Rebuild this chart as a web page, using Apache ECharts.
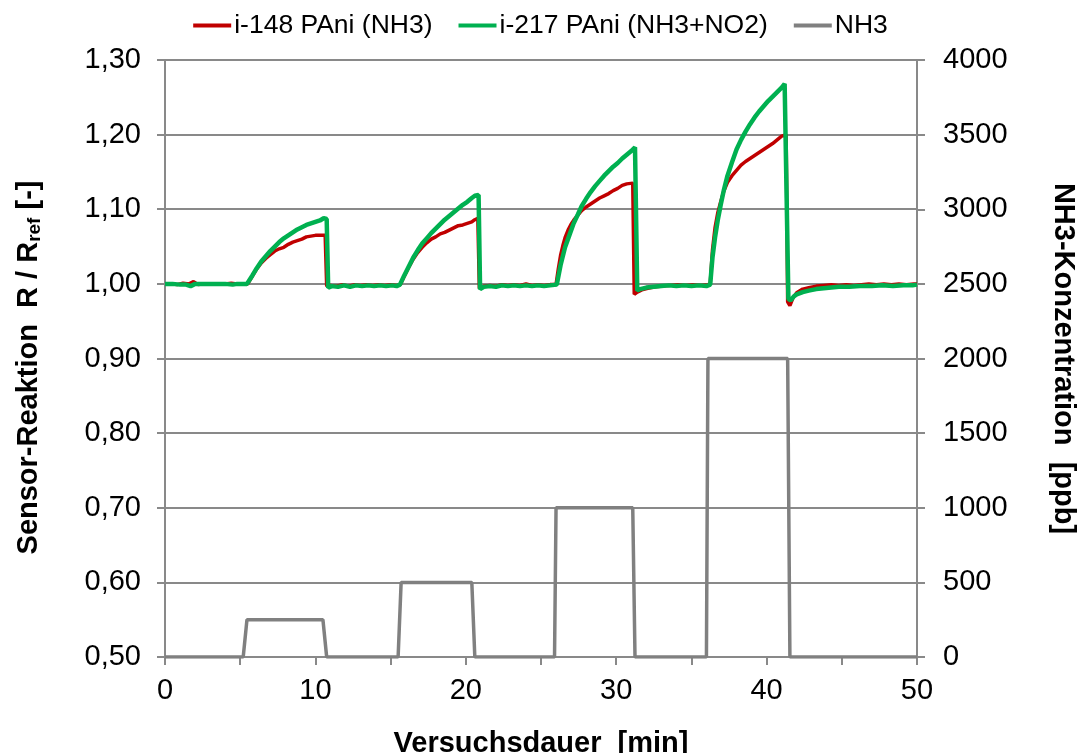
<!DOCTYPE html>
<html>
<head>
<meta charset="utf-8">
<script src="https://cdn.jsdelivr.net/npm/echarts@6/dist/echarts.min.js"></script>
<style>
  html, body { margin: 0; padding: 0; background: #ffffff; }
  #chart { width: 1081px; height: 753px; }
</style>
</head>
<body>
<div id="chart"></div>
<script>
// Sensor i-148 PAni (NH3): time [min] and relative resistance R/Rref
const timeI148 = [
  0, 0.4, 0.8, 1.2, 1.6, 1.9, 2.2, 2.6, 3.0, 3.5, 4.0, 4.4, 4.8, 5.2, 5.5,
  5.8, 6.1, 6.4, 6.7, 7.0, 7.3, 7.6, 7.9, 8.2, 8.5, 8.8, 9.1, 9.4, 9.7, 10.0, 10.3, 10.65,
  10.75, 11.0, 11.4, 11.8, 12.2, 12.6, 13.0, 13.4, 13.8, 14.2, 14.6, 15.0, 15.4, 15.65,
  15.9, 16.2, 16.5, 16.8, 17.1, 17.4, 17.7, 18.0, 18.3, 18.6, 18.9, 19.2, 19.5, 19.8, 20.1, 20.4, 20.6, 20.8,
  20.9, 21.2, 21.6, 22.0, 22.4, 22.8, 23.2, 23.6, 24.0, 24.4, 24.8, 25.2, 25.6, 26.0,
  26.15, 26.3, 26.45, 26.6, 26.8, 27.0, 27.2, 27.45, 27.7, 28.0, 28.3, 28.6, 28.9, 29.2, 29.5, 29.8, 30.1, 30.4, 30.7, 31.1,
  31.2, 31.4, 31.7, 32.1, 32.6, 33.1, 33.6, 34.1, 34.6, 35.1, 35.6, 36.1, 36.25,
  36.4, 36.57, 36.75, 36.95, 37.15, 37.4, 37.7, 38.0, 38.3, 38.6, 38.9, 39.2, 39.5, 39.8, 40.1, 40.4, 40.7, 41.0, 41.3,
  41.4, 41.55, 41.75, 42.0, 42.4, 42.8, 43.3, 43.8, 44.3, 44.8, 45.3, 45.8, 46.3, 46.8, 47.3, 47.8, 48.3, 48.8, 49.3, 49.8, 50.0
];
const respI148 = [
  1.000, 1.000, 0.999, 1.001, 1.000, 1.003, 0.999, 1.000, 1.000, 1.000, 1.000, 1.001, 1.000, 1.000, 1.000,
  1.010, 1.020, 1.028, 1.034, 1.039, 1.044, 1.047, 1.049, 1.053, 1.056, 1.058, 1.060, 1.063, 1.064, 1.065, 1.065, 1.065,
  0.997, 0.998, 0.997, 0.999, 0.997, 0.999, 0.998, 0.999, 0.998, 0.999, 0.998, 0.999, 0.998, 0.999,
  1.010, 1.022, 1.033, 1.042, 1.049, 1.055, 1.060, 1.063, 1.067, 1.069, 1.072, 1.075, 1.078, 1.079, 1.081, 1.083, 1.086, 1.088,
  0.994, 0.997, 0.998, 0.997, 0.999, 0.998, 0.999, 0.998, 1.000, 0.998, 0.999, 0.998, 0.999, 0.999,
  1.020, 1.038, 1.051, 1.062, 1.072, 1.080, 1.086, 1.092, 1.098, 1.103, 1.107, 1.111, 1.115, 1.118, 1.121, 1.125, 1.128, 1.132, 1.134, 1.135,
  0.986, 0.989, 0.992, 0.994, 0.996, 0.997, 0.998, 0.999, 0.998, 0.999, 0.998, 0.999, 1.000,
  1.045, 1.075, 1.095, 1.110, 1.124, 1.136, 1.145, 1.152, 1.159, 1.164, 1.168, 1.172, 1.176, 1.180, 1.184, 1.188, 1.193, 1.198, 1.200,
  0.976, 0.971, 0.981, 0.988, 0.993, 0.995, 0.997, 0.998, 0.999, 0.998, 0.999, 0.998, 0.999, 1.000, 0.999, 1.000, 0.999, 1.000, 0.999, 1.000, 1.000
];

// Sensor i-217 PAni (NH3+NO2)
const timeI217 = [
  0, 0.5, 1.0, 1.4, 1.7, 2.0, 2.5, 3.0, 3.5, 4.0, 4.5, 4.8, 5.2, 5.45,
  5.8, 6.1, 6.4, 6.7, 7.0, 7.3, 7.6, 7.9, 8.2, 8.5, 8.8, 9.1, 9.4, 9.7, 10.0, 10.3, 10.55, 10.75,
  10.85, 11.1, 11.5, 11.9, 12.3, 12.7, 13.1, 13.5, 13.9, 14.3, 14.7, 15.1, 15.4, 15.62,
  15.9, 16.2, 16.5, 16.8, 17.1, 17.4, 17.7, 18.0, 18.3, 18.6, 18.9, 19.2, 19.5, 19.8, 20.1, 20.4, 20.6, 20.85,
  20.95, 21.2, 21.6, 22.0, 22.4, 22.8, 23.2, 23.6, 24.0, 24.4, 24.8, 25.2, 25.6, 26.05,
  26.3, 26.6, 26.9, 27.15, 27.45, 27.7, 28.0, 28.3, 28.6, 28.9, 29.2, 29.5, 29.8, 30.1, 30.4, 30.7, 31.0, 31.25, 31.35,
  31.4, 31.6, 32.0, 32.5, 33.0, 33.5, 34.0, 34.5, 35.0, 35.5, 36.0, 36.25,
  36.4, 36.57, 36.75, 36.95, 37.15, 37.4, 37.7, 38.0, 38.3, 38.6, 38.9, 39.2, 39.5, 39.8, 40.1, 40.4, 40.7, 41.0, 41.2, 41.3,
  41.45, 41.6, 41.8, 42.0, 42.4, 42.8, 43.3, 43.8, 44.3, 44.8, 45.5, 46.2, 47.0, 47.7, 48.4, 49.1, 49.7, 50.0
];
const respI217 = [
  1.000, 1.000, 0.999, 0.999, 0.997, 1.000, 1.000, 1.000, 1.000, 1.000, 0.999, 1.000, 1.000, 1.000,
  1.011, 1.021, 1.030, 1.037, 1.044, 1.050, 1.056, 1.061, 1.065, 1.069, 1.073, 1.076, 1.079, 1.081, 1.083, 1.085, 1.088, 1.087,
  0.995, 0.997, 0.996, 0.998, 0.996, 0.998, 0.997, 0.998, 0.997, 0.998, 0.997, 0.998, 0.997, 0.999,
  1.011, 1.023, 1.035, 1.045, 1.054, 1.061, 1.068, 1.074, 1.080, 1.086, 1.091, 1.096, 1.101, 1.106, 1.110, 1.115, 1.118, 1.119,
  0.993, 0.996, 0.997, 0.996, 0.998, 0.997, 0.998, 0.997, 0.998, 0.997, 0.998, 0.997, 0.998, 0.999,
  1.025, 1.049, 1.066, 1.080, 1.093, 1.104, 1.114, 1.123, 1.131, 1.138, 1.145, 1.151, 1.157, 1.162, 1.168, 1.173, 1.178, 1.183, 1.181,
  0.991, 0.993, 0.995, 0.996, 0.997, 0.998, 0.997, 0.998, 0.997, 0.998, 0.997, 0.999,
  1.035, 1.062, 1.085, 1.106, 1.125, 1.145, 1.163, 1.180, 1.193, 1.204, 1.214, 1.223, 1.231, 1.238, 1.245, 1.251, 1.257, 1.263, 1.268, 1.269,
  0.980, 0.978, 0.983, 0.986, 0.989, 0.991, 0.993, 0.994, 0.995, 0.996, 0.996, 0.997, 0.997, 0.998, 0.997, 0.998, 0.998, 0.999
];

// NH3 dosing profile [ppb]
const timeNH3 = [0, 5.2, 5.45, 10.5, 10.75, 15.5, 15.7, 20.4, 20.6, 25.9, 26.0, 31.1, 31.25, 36.0, 36.1, 41.4, 41.55, 50];
const concNH3 = [0, 0, 250, 250, 0, 0, 500, 500, 0, 0, 1000, 1000, 0, 0, 2000, 2000, 0, 0];

const seriesNames = ['i-148 PAni (NH3)', 'i-217 PAni (NH3+NO2)', 'NH3'];
const seriesColors = ['#C00000', '#00B050', '#808080'];

const pairs = (ts, vs) => ts.map((t, i) => [t, vs[i]]);

const FONT = "'Liberation Sans', Arial, sans-serif";
const AXIS_GRAY = '#898989';
const TICK_FONT = 29;
const TITLE_FONT = 29;

const chart = echarts.init(document.getElementById('chart'), null, { renderer: 'canvas' });

chart.setOption({
  animation: false,
  backgroundColor: '#ffffff',
  textStyle: { fontFamily: FONT },
  legend: {
    top: 7,
    left: 'center',
    itemWidth: 38,
    itemHeight: 4,
    itemGap: 26,
    icon: 'rect',
    textStyle: { fontSize: 26.5, color: '#000', fontFamily: FONT, padding: [0, 0, 0, -2] },
    data: seriesNames
  },
  grid: {
    left: 165, right: 164, top: 60, bottom: 96,
    containLabel: false,
    outerBoundsMode: 'none'
  },
  xAxis: {
    type: 'value',
    min: 0, max: 50, interval: 5,
    name: 'Versuchsdauer  [min]',
    nameLocation: 'middle',
    nameGap: 72,
    nameTextStyle: { fontSize: TITLE_FONT, fontWeight: 'bold', color: '#000', fontFamily: FONT },
    axisLine: { show: true, lineStyle: { color: AXIS_GRAY, width: 2 } },
    axisTick: { show: true, length: 8, lineStyle: { color: AXIS_GRAY, width: 2 } },
    axisLabel: {
      fontSize: TICK_FONT, color: '#000', margin: 19,
      formatter: v => (v % 10 === 0 ? String(v) : '')
    },
    splitLine: { show: false }
  },
  yAxis: [
    {
      type: 'value',
      min: 0.5, max: 1.3, interval: 0.1,
      position: 'left',
      name: 'Sensor-Reaktion  R / R{sub|ref} [-]',
      nameLocation: 'middle',
      nameRotate: 90,
      nameGap: 121,
      nameTextStyle: {
        fontSize: 29, fontWeight: 'bold', color: '#000', fontFamily: FONT,
        padding: [0, 18, 0, 0],
        rich: {
          sub: { fontSize: 19, fontWeight: 'bold', color: '#000', fontFamily: FONT, verticalAlign: 'bottom', padding: [11, 0, 0, 0] }
        }
      },
      axisLine: { show: true, lineStyle: { color: AXIS_GRAY, width: 2 } },
      axisTick: { show: true, length: 8, lineStyle: { color: AXIS_GRAY, width: 2 } },
      axisLabel: {
        fontSize: TICK_FONT, color: '#000', margin: 24,
        formatter: v => v.toFixed(2).replace('.', ',')
      },
      splitLine: { show: true, lineStyle: { color: AXIS_GRAY, width: 2 } }
    },
    {
      type: 'value',
      min: 0, max: 4000, interval: 500,
      position: 'right',
      name: 'NH3-Konzentration  [ppb]',
      nameLocation: 'middle',
      nameRotate: -90,
      nameGap: 131,
      nameTextStyle: { fontSize: TITLE_FONT, fontWeight: 'bold', color: '#000', fontFamily: FONT },
      axisLine: { show: true, lineStyle: { color: AXIS_GRAY, width: 2 } },
      axisTick: { show: true, length: 8, lineStyle: { color: AXIS_GRAY, width: 2 } },
      axisLabel: { fontSize: TICK_FONT, color: '#000', margin: 26, formatter: v => String(v) },
      splitLine: { show: false }
    }
  ],
  series: [
    {
      name: seriesNames[2],
      type: 'line',
      yAxisIndex: 1,
      data: pairs(timeNH3, concNH3),
      showSymbol: false,
      color: seriesColors[2],
      lineStyle: { width: 3.5, color: seriesColors[2] },
      z: 2
    },
    {
      name: seriesNames[0],
      type: 'line',
      yAxisIndex: 0,
      data: pairs(timeI148, respI148),
      showSymbol: false,
      color: seriesColors[0],
      lineStyle: { width: 3.5, color: seriesColors[0] },
      z: 3
    },
    {
      name: seriesNames[1],
      type: 'line',
      yAxisIndex: 0,
      data: pairs(timeI217, respI217),
      showSymbol: false,
      color: seriesColors[1],
      lineStyle: { width: 4.5, color: seriesColors[1] },
      z: 4
    }
  ]
});
</script>
</body>
</html>
